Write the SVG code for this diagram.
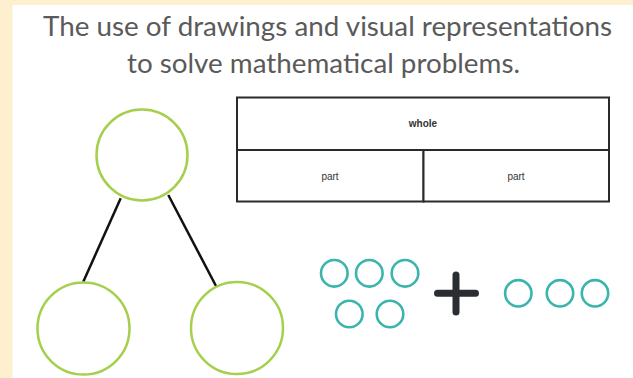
<svg xmlns="http://www.w3.org/2000/svg" width="633" height="378" viewBox="0 0 633 378">
<style>
.title{font-family:"Lato","Liberation Sans","DejaVu Sans",sans-serif;font-size:27px;fill:#5a5a5a;}
.lbl{font-family:"Liberation Sans","DejaVu Sans",sans-serif;font-size:10px;fill:#333333;text-anchor:middle;}
.green{fill:#ffffff;stroke:#a6cf4e;stroke-width:2.5;}
.teal{fill:none;stroke:#3bb4ae;stroke-width:2.6;}
.cell{fill:#ffffff;stroke:#2a2a2a;stroke-width:2;}
.edge{stroke:#111111;stroke-width:2.5;fill:none;}
</style>
<rect x="0" y="0" width="633" height="378" fill="#fef0cf"/>
<rect x="12.5" y="5" width="620.5" height="373" fill="#ffffff"/>
<g id="title">
<text class="title" x="43" y="36" textLength="569" lengthAdjust="spacingAndGlyphs">The use of drawings and visual representations</text>
<text class="title" x="127" y="72.5" textLength="393" lengthAdjust="spacingAndGlyphs">to solve mathematical problems.</text>
</g>
<g id="connectors">
<line class="edge" x1="120.7" y1="198.3" x2="83.3" y2="281.7"/>
<line class="edge" x1="168.3" y1="195" x2="216" y2="286"/>
</g>
<g id="node-top"><circle class="green" cx="142" cy="155" r="45.5"/></g>
<g id="node-left"><circle class="green" cx="83.5" cy="328.5" r="46"/></g>
<g id="node-right"><circle class="green" cx="237" cy="328" r="46"/></g>
<g id="bar-model">
<rect class="cell" x="237" y="97.5" width="372" height="52.5"/>
<rect class="cell" x="237" y="150" width="186.5" height="51.5"/>
<rect class="cell" x="423.5" y="150" width="185.5" height="51.5"/>
<text class="lbl" x="423" y="127" font-weight="bold">whole</text>
<text class="lbl" x="330" y="179.5">part</text>
<text class="lbl" x="516" y="179.5">part</text>
</g>
<g id="counters-left">
<circle class="teal" cx="334.3" cy="273.3" r="13.3"/>
<circle class="teal" cx="369.3" cy="273.3" r="13.3"/>
<circle class="teal" cx="405" cy="273.3" r="13.3"/>
<circle class="teal" cx="349.3" cy="314" r="13.3"/>
<circle class="teal" cx="390" cy="314" r="13.3"/>
</g>
<g id="plus">
<path d="M437.5 293.3 H475.5 M456 275 V312" stroke="#2a2d31" stroke-width="7" stroke-linecap="round" fill="none"/>
</g>
<g id="counters-right">
<circle class="teal" cx="518.3" cy="293.3" r="13.2"/>
<circle class="teal" cx="560" cy="293.3" r="13.2"/>
<circle class="teal" cx="595" cy="293.3" r="13.2"/>
</g>
</svg>
